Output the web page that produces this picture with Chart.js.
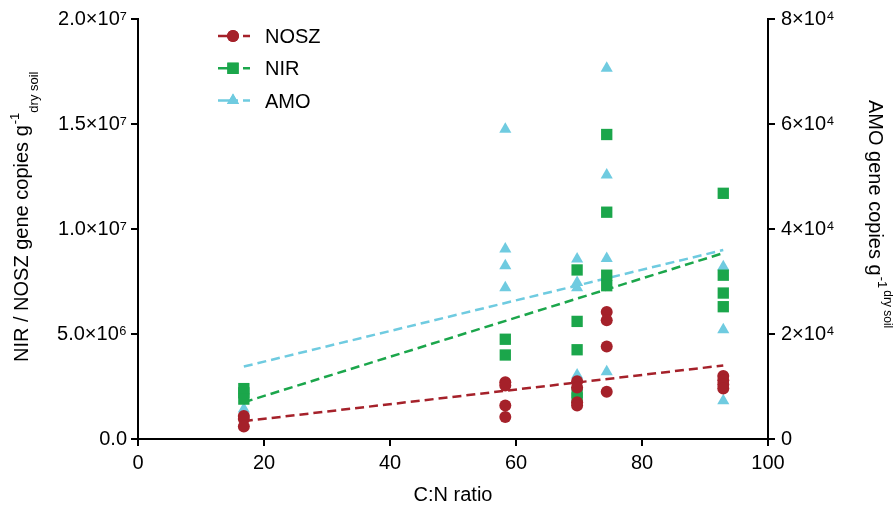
<!DOCTYPE html>
<html>
<head>
<meta charset="utf-8">
<script src="https://cdn.jsdelivr.net/npm/chart.js@4.4.1/dist/chart.umd.min.js"></script>
<style>
  html, body { margin: 0; padding: 0; background: #fff; }
  #wrap { width: 893px; height: 506px; }
</style>
</head>
<body>
<div id="wrap"><canvas id="myChart"></canvas></div>
<script>
// C:N ratio of each soil group
const cnRatio = [16.8, 58.3, 69.7, 74.4, 92.9];

// gene copies per group
const noszCopies = [
  [1.1e6, 0.95e6, 0.6e6],
  [2.7e6, 2.55e6, 1.6e6, 1.05e6],
  [2.75e6, 2.45e6, 1.75e6, 1.6e6],
  [6.05e6, 5.65e6, 4.4e6, 2.25e6],
  [3.0e6, 2.8e6, 2.6e6, 2.4e6]
];
const nirCopies = [
  [2.4e6, 2.2e6, 1.9e6],
  [4.75e6, 4.0e6],
  [8.05e6, 5.6e6, 4.25e6, 2.2e6, 1.95e6],
  [14.5e6, 10.8e6, 7.8e6, 7.3e6],
  [11.7e6, 7.8e6, 6.95e6, 6.3e6]
];
const amoCopies = [
  [5700, 5000],
  [59000, 36200, 33000, 28800],
  [34300, 29800, 28800, 12200],
  [70600, 50300, 34400, 12800],
  [32800, 20800, 7300]
];

// fitted trend lines, end points
const trendX = [16.8, 92.9];
const noszTrend = [0.85e6, 3.5e6];
const nirTrend = [1.75e6, 8.85e6];
const amoTrend = [13800, 36000];

// axis ticks
const xTicks = [0, 20, 40, 60, 80, 100];
const leftTicks = [0, 5e6, 1e7, 1.5e7, 2e7];
const rightTicks = [0, 2e4, 4e4, 6e4, 8e4];

const RED = '#a5212a';
const GREEN = '#1ba64b';
const CYAN = '#6fcbe0';
const FONT = "'Liberation Sans', Arial, sans-serif";

const toPoints = groups => groups.flatMap((vals, i) => vals.map(v => ({ x: cnRatio[i], y: v })));
const toLine = ends => ends.map((v, i) => ({ x: trendX[i], y: v }));

const SUP = { '0': '⁰', '1': '¹', '2': '²', '3': '³', '4': '⁴', '5': '⁵', '6': '⁶', '7': '⁷', '8': '⁸', '9': '⁹' };
function sci(v, digits, zero) {
  if (v === 0) return zero;
  const e = Math.floor(Math.log10(v) + 1e-9);
  const m = v / Math.pow(10, e);
  return m.toFixed(digits) + '×10' + String(e).split('').map(c => SUP[c]).join('');
}

// legend and axis titles with super/subscripts
const decorations = {
  id: 'decorations',
  afterDraw(chart) {
    const ctx = chart.ctx;
    const area = chart.chartArea;
    ctx.save();
    ctx.fillStyle = '#000';
    ctx.textBaseline = 'alphabetic';

    // x title
    ctx.font = '20px ' + FONT;
    ctx.textAlign = 'center';
    ctx.fillText('C:N ratio', (area.left + area.right) / 2, 501);

    // left title
    ctx.save();
    ctx.translate(28, 362);
    ctx.rotate(-Math.PI / 2);
    ctx.textAlign = 'left';
    ctx.font = '20px ' + FONT;
    const mainL = 'NIR / NOSZ gene copies g';
    ctx.fillText(mainL, 0, 0);
    let w = ctx.measureText(mainL).width;
    ctx.font = '13px ' + FONT;
    ctx.fillText('-1', w + 1, -9);
    w += ctx.measureText('-1').width + 1;
    ctx.fillText('dry soil', w, 10);
    ctx.restore();

    // right title
    ctx.save();
    ctx.translate(869, 100);
    ctx.rotate(Math.PI / 2);
    ctx.textAlign = 'left';
    ctx.font = '20px ' + FONT;
    const mainR = 'AMO gene copies g';
    ctx.fillText(mainR, 0, 0);
    w = ctx.measureText(mainR).width;
    ctx.font = '13px ' + FONT;
    ctx.fillText('-1', w + 1, -9);
    w += ctx.measureText('-1').width + 3;
    ctx.font = '12px ' + FONT;
    ctx.fillText('dry soil', w, -15);
    ctx.restore();

    // legend
    const items = chart.data.datasets.filter(d => d.legendRow !== undefined);
    items.forEach(d => {
      const y = 36 + d.legendRow * 32.3;
      ctx.strokeStyle = d.borderColor;
      ctx.lineWidth = 2.5;
      ctx.beginPath();
      ctx.moveTo(218, y); ctx.lineTo(238, y);
      ctx.moveTo(243, y); ctx.lineTo(250, y);
      ctx.stroke();
      ctx.fillStyle = d.backgroundColor;
      Chart.helpers.drawPoint(ctx, {
        pointStyle: d.pointStyle, radius: d.pointRadius, borderWidth: 0
      }, 233, y);
      ctx.fill();
      ctx.fillStyle = '#000';
      ctx.font = '20px ' + FONT;
      ctx.textAlign = 'left';
      ctx.fillText(d.label, 265, y + 7);
    });
    ctx.restore();
  }
};

const pointSet = (label, groups, color, style, r, axis, row, order) => ({
  type: 'scatter', label, data: toPoints(groups), yAxisID: axis,
  pointStyle: style, pointRadius: r, pointHoverRadius: r,
  backgroundColor: color, borderColor: color, borderWidth: 0,
  showLine: false, legendRow: row, order
});
const trendSet = (label, ends, color, axis, order) => ({
  type: 'line', label, data: toLine(ends), yAxisID: axis,
  borderColor: color, borderWidth: 2.5, borderDash: [9, 5],
  pointRadius: 0, fill: false, order
});

const axisGrid = { display: true, drawOnChartArea: false, drawTicks: true, tickLength: 7, color: '#000', lineWidth: 2 };
const axisBorder = { display: true, color: '#000', width: 2 };
const tickFont = { family: FONT, size: 20 };

const ctx = document.getElementById('myChart').getContext('2d');
const myChart = new Chart(ctx, {
  data: {
    datasets: [
      pointSet('NOSZ', noszCopies, RED, 'circle', 6, 'y', 0, 1),
      pointSet('NIR', nirCopies, GREEN, 'rect', 8, 'y', 1, 2),
      pointSet('AMO', amoCopies, CYAN, 'triangle', 7, 'y1', 2, 3),
      trendSet('NOSZ fit', noszTrend, RED, 'y', 4),
      trendSet('NIR fit', nirTrend, GREEN, 'y', 5),
      trendSet('AMO fit', amoTrend, CYAN, 'y1', 6)
    ]
  },
  options: {
    responsive: true,
    maintainAspectRatio: false,
    animation: false,
    devicePixelRatio: 1,
    layout: { padding: { top: 19, right: 0, left: 0, bottom: 0 } },
    plugins: { legend: { display: false }, tooltip: { enabled: false } },
    scales: {
      x: {
        type: 'linear', min: 0, max: 100,
        afterBuildTicks: s => { s.ticks = xTicks.map(v => ({ value: v })); },
        afterFit: s => { s.height = 67; },
        ticks: { color: '#000', font: tickFont, padding: 5, maxRotation: 0 },
        grid: axisGrid, border: axisBorder
      },
      y: {
        type: 'linear', position: 'left', min: 0, max: 2e7,
        afterBuildTicks: s => { s.ticks = leftTicks.map(v => ({ value: v })); },
        afterFit: s => { s.width = 138; },
        ticks: { color: '#000', font: tickFont, padding: 4, callback: v => sci(v, 1, '0.0') },
        grid: axisGrid, border: axisBorder
      },
      y1: {
        type: 'linear', position: 'right', min: 0, max: 8e4,
        afterBuildTicks: s => { s.ticks = rightTicks.map(v => ({ value: v })); },
        afterFit: s => { s.width = 125; },
        ticks: { color: '#000', font: tickFont, padding: 6, callback: v => sci(v, 0, '0') },
        grid: axisGrid, border: axisBorder
      }
    }
  },
  plugins: [decorations]
});
</script>
</body>
</html>
